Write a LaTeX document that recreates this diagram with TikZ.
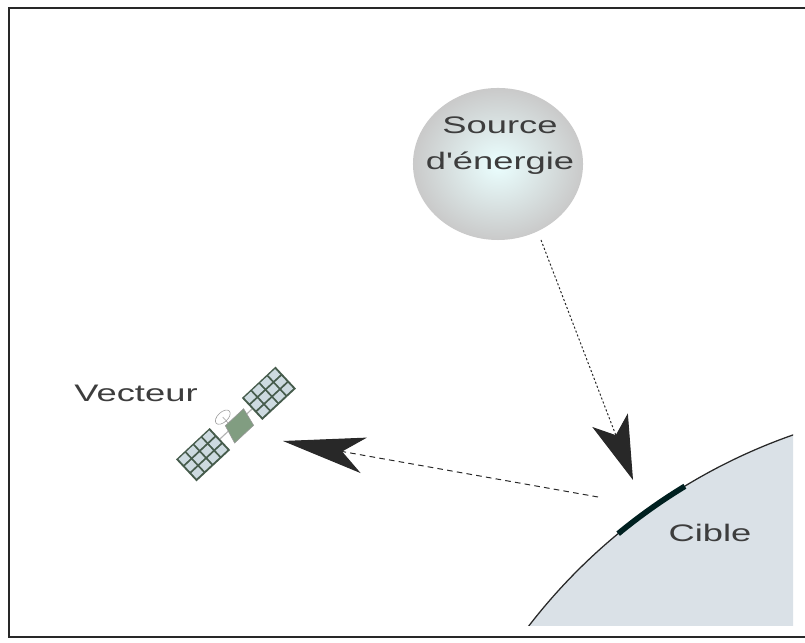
\documentclass[tikz,border=0pt]{standalone}
\usepackage{fontspec}
\newfontfamily\labelfont[FakeStretch=1.52]{Liberation Sans}
\usetikzlibrary{shapes.geometric,arrows.meta}
\usetikzlibrary{positioning}
\definecolor{ground}{RGB}{218,225,231}
\definecolor{ink}{RGB}{40,40,40}
\definecolor{panel}{RGB}{70,92,76}
\definecolor{cell}{RGB}{205,218,224}
\tikzstyle{textlabel} = [font=\labelfont\fontsize{17}{26}\selectfont, text=ink!90, inner sep=0pt]
\tikzstyle{source} = [ellipse, draw=none, minimum width=4.25cm, minimum height=3.8cm,
shading=radial, inner color=white!92!cyan, outer color=gray!42]
\tikzstyle{beam} = [draw=ink, line width=0.7pt, dash pattern=on 1.5pt off 1.5pt,
-{Stealth[length=1.6cm, width=0.95cm, inset=0.4cm]}]
\tikzstyle{echo} = [draw=ink, line width=0.7pt, dash pattern=on 4pt off 3pt,
-{Stealth[length=2.05cm, width=0.9cm, inset=0.55cm]}]

\begin{document}
\begin{tikzpicture}[x=0.025cm, y=0.025cm]
	\useasboundingbox (0,0) rectangle (805,643);
	%% Earth, cut by the frame
	\coordinate (earth) at (982,-332);
	\begin{scope}
		\clip (0,17) rectangle (793,643);
		\fill[ground] (earth) circle (572);
		\draw[ink, line width=0.9pt] (earth) circle (572);
	\end{scope}
	\draw[black!75!teal, line width=4pt] ([shift={(129.5:572)}]earth) arc (129.5:121.3:572);
	\node [textlabel, anchor=base] (target) at (710,101) {Cible};
	%% Source
	\node [source] (src) at (498,479) {};
	\node [textlabel, align=center, anchor=base] (srctext) at (500,473) {Source\\d'énergie};
	%% Satellite
	\node [textlabel, anchor=base] (vector) at (136,241) {Vecteur};
	\begin{scope}[shift={(236,219)}, rotate=43]
		\draw[gray!60, line width=0.8pt] (-24,0) -- (24,0);
		\fill[panel] (22,-15) rectangle (68,15);
		\fill[panel] (-68,-15) rectangle (-22,15);
		\foreach \u in {24,35,46,57}
		\foreach \v in {-13,-3.5,6} {
			\fill[cell] (\u,\v) rectangle ++(9,7.5);
			\fill[cell] (-\u-9,\v) rectangle ++(9,7.5);
		}
		\filldraw[fill=gray!50!green!40!black!55, draw=gray!80] (-14,-13) -- (12,-13) -- (16,6) -- (-9,6) -- cycle;
		\filldraw[fill=white, draw=gray!80] (-5,14) ellipse (9 and 5);
		\draw[gray!80] (-5,14) -- (-5,6);
	\end{scope}
	%% Flows
	\coordinate (emit) at (541,403);
	\coordinate (impact) at (633,163);
	\coordinate (reflect) at (598,146);
	\coordinate (receive) at (283,202);
	\path [beam] (emit) -- (impact);
	\path [echo] (reflect) -- (receive);
	%% Frame
	\draw[ink, line width=2pt] (805,635) -- (9,635) -- (9,6) -- (805,6);
\end{tikzpicture}
\end{document}
